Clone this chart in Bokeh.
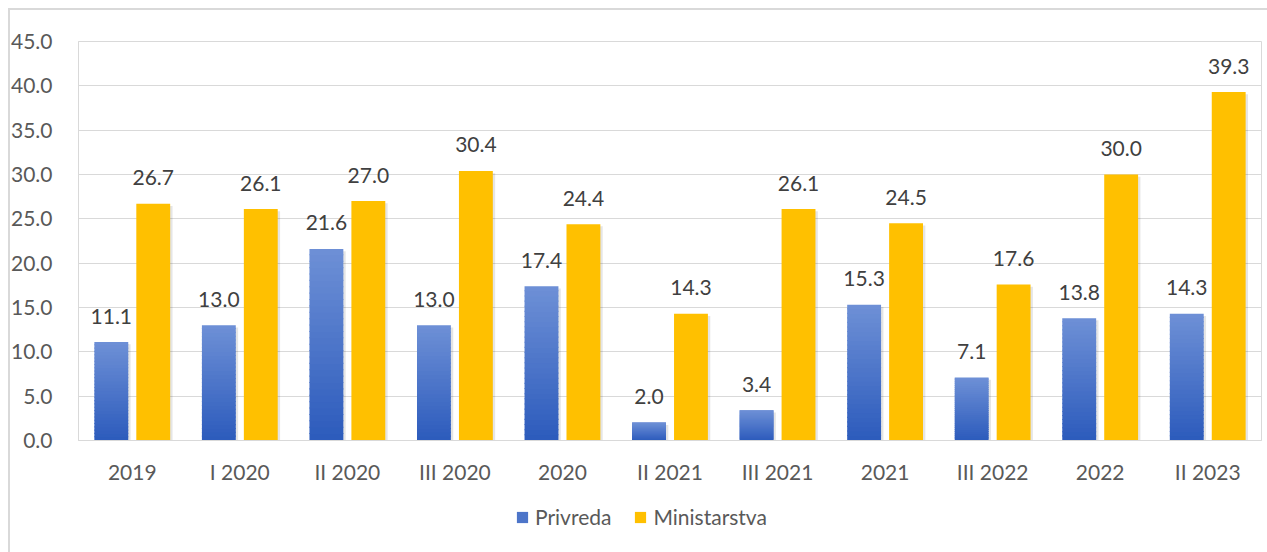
from bokeh.plotting import figure
from bokeh.layouts import column
from bokeh.models import (ColumnDataSource, FactorRange, Range1d, FixedTicker,
                          NumeralTickFormatter, Legend, LegendItem)
from bokeh.transform import dodge
from bokeh.core.properties import value
from bokeh.embed import file_html
from bokeh.resources import INLINE

categories = ["2019", "I 2020", "II 2020", "III 2020", "2020", "II 2021",
              "III 2021", "2021", "III 2022", "2022", "II 2023"]
privreda = [11.1, 13.0, 21.6, 13.0, 17.4, 2.0, 3.4, 15.3, 7.1, 13.8, 14.3]
ministarstva = [26.7, 26.1, 27.0, 30.4, 24.4, 14.3, 26.1, 24.5, 17.6, 30.0, 39.3]
y_ticks = [0, 5, 10, 15, 20, 25, 30, 35, 40, 45]
series_names = ["Privreda", "Ministarstva"]

FONT = "Lato"
FS = "21px"
BLUE_TOP = (0x6e, 0x90, 0xd6)
BLUE_BOT = (0x2c, 0x5b, 0xbc)
BLUE_MID = "#4d75c9"
GOLD = "#FFC000"
OFF = 0.195
BW = 0.315

p = figure(x_range=FactorRange(*categories, range_padding=0),
           y_range=Range1d(0, 45),
           width=1259, height=485, output_backend="svg", toolbar_location=None,
           min_border_left=70, min_border_right=6, min_border_top=33,
           min_border_bottom=53)
p.border_fill_color = None
p.background_fill_color = "white"
p.outline_line_color = "#d9d9d9"
p.outline_line_width = 1

# shadows
sh_src = ColumnDataSource(dict(x=categories,
                               pt=[v - 0.25 for v in privreda],
                               mt=[v - 0.25 for v in ministarstva]))
p.vbar(x=dodge("x", -OFF + 0.022, range=p.x_range), top="pt", width=BW,
       source=sh_src, fill_color="black", fill_alpha=0.10, line_color=None)
p.vbar(x=dodge("x", OFF + 0.022, range=p.x_range), top="mt", width=BW,
       source=sh_src, fill_color="black", fill_alpha=0.10, line_color=None)

# blue gradient bars built from slices of each value
N = 30
gx, gb, gt, gc = [], [], [], []
for k in range(N):
    f = (k + 0.5) / N
    col = "#%02x%02x%02x" % tuple(int(round(b + (t - b) * f)) for t, b in zip(BLUE_TOP, BLUE_BOT))
    for c, v in zip(categories, privreda):
        gx.append(c)
        gb.append(v * k / N)
        gt.append(v * (k + 1) / N + (0.12 if k < N - 1 else 0))
        gc.append(col)
g_src = ColumnDataSource(dict(x=gx, bottom=gb, top=gt, color=gc))
p.vbar(x=dodge("x", -OFF, range=p.x_range), bottom="bottom", top="top",
       width=BW, source=g_src, fill_color="color", line_color=None)

m_src = ColumnDataSource(dict(x=categories, top=ministarstva))
p.vbar(x=dodge("x", OFF, range=p.x_range), top="top", width=BW,
       source=m_src, fill_color=GOLD, line_color=None)

# data labels
lab_src = ColumnDataSource(dict(x=categories, p=privreda, m=ministarstva,
                                pl=["%.1f" % v for v in privreda],
                                ml=["%.1f" % v for v in ministarstva]))
p.text(x=dodge("x", -OFF, range=p.x_range), y="p", text="pl", source=lab_src,
       text_align="center", text_baseline="alphabetic", y_offset=-26,
       text_font=value(FONT), text_font_size=FS, text_color="#404040")
p.text(x=dodge("x", OFF, range=p.x_range), y="m", text="ml", source=lab_src,
       text_align="center", text_baseline="alphabetic", y_offset=-26,
       text_font=value(FONT), text_font_size=FS, text_color="#404040")

# axes
p.yaxis.ticker = FixedTicker(ticks=y_ticks)
p.yaxis.formatter = NumeralTickFormatter(format="0.0")
for ax in (p.xaxis[0], p.yaxis[0]):
    ax.major_tick_line_color = None
    ax.minor_tick_line_color = None
    ax.axis_line_color = "#d9d9d9"
    ax.major_label_text_font = FONT
    ax.major_label_text_font_size = FS
    ax.major_label_text_color = "#595959"
p.yaxis.major_label_standoff = 20
p.xaxis.major_label_standoff = 12
p.xgrid.grid_line_color = None
p.ygrid.grid_line_color = "#d9d9d9"
p.ygrid.grid_line_width = 1

# legend strip
p2 = figure(width=1259, height=59, output_backend="svg", toolbar_location=None,
            x_axis_type=None, y_axis_type=None, x_range=Range1d(0, 1), y_range=Range1d(0, 1),
            min_border=0)
p2.border_fill_color = None
p2.background_fill_color = None
p2.outline_line_color = None
p2.grid.grid_line_color = None
hidden = ColumnDataSource(dict(left=[5.0], right=[6.0], bottom=[5.0], top=[6.0]))
rb = p2.quad(left="left", right="right", bottom="bottom", top="top", source=hidden,
             fill_color=BLUE_MID, line_color=None)
rg = p2.quad(left="left", right="right", bottom="bottom", top="top", source=hidden,
             fill_color=GOLD, line_color=None)
legend = Legend(items=[LegendItem(label=series_names[0], renderers=[rb]),
                       LegendItem(label=series_names[1], renderers=[rg])],
                orientation="horizontal", location=(437, 23),
                label_text_font=FONT, label_text_font_size=FS,
                label_text_color="#595959", glyph_width=14, glyph_height=14,
                spacing=22, label_standoff=6, border_line_color=None,
                background_fill_color=None, margin=0, padding=4)
p2.add_layout(legend, "center")

layout = column(p, p2, spacing=0)
layout.styles = {"margin": "8px 0 0 8px", "box-shadow": "inset 2px 2px 0 0 #d9d9d9"}

open("out.html", "w").write(file_html(layout, INLINE))
